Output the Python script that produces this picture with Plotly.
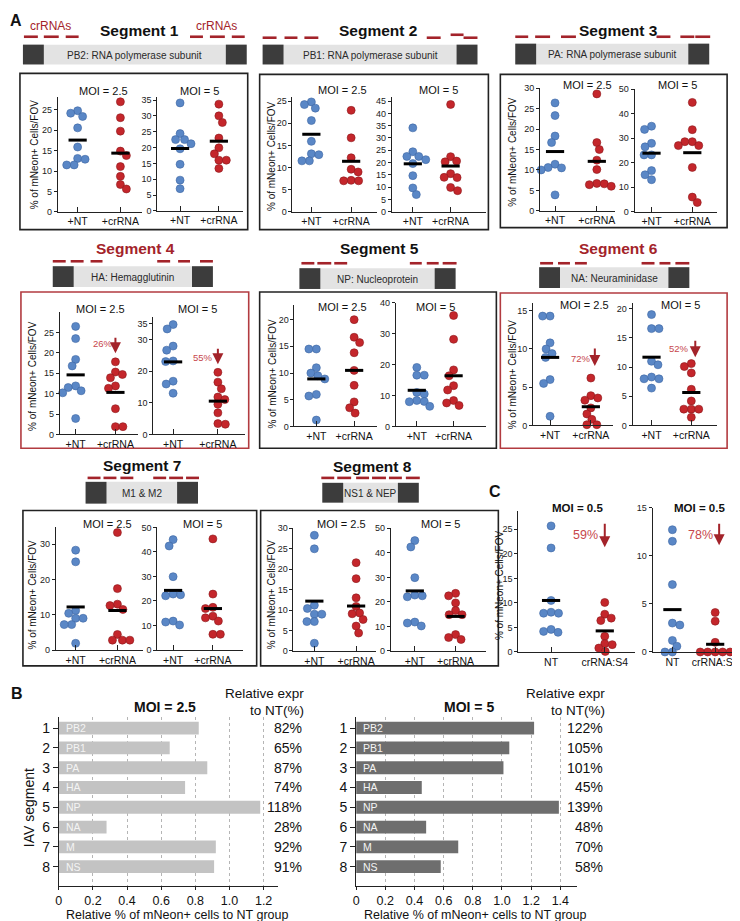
import plotly.graph_objects as go

# ---------------- data ----------------
CATS_A = ['+NT', '+crRNA']
CATS_C4 = ['NT', 'crRNA:S4']
CATS_C6 = ['NT', 'crRNA:S6']

S1_25_NT = [24.8, 24.2, 23.4, 20.6, 15.9, 13.1, 12.9, 11.5, 11.5]
S1_25_CR = [27.0, 23.1, 19.8, 14.9, 13.8, 11.1, 8.7, 6.7, 5.6]
S1_25_MEAN = [17.6, 14.4]
S1_5_NT = [34.1, 24.4, 22.5, 22.5, 21.2, 19.6, 14.7, 9.7, 7.0]
S1_5_CR = [33.7, 30.0, 27.9, 23.0, 19.9, 18.0, 16.0, 16.0, 13.4]
S1_5_MEAN = [19.7, 22.0]

S2_25_NT = [24.8, 24.2, 23.4, 20.6, 15.9, 13.1, 12.9, 11.5, 11.5]
S2_25_CR = [22.9, 16.7, 12.2, 9.6, 9.0, 7.1, 7.0, 7.0]
S2_25_MEAN = [17.5, 11.4]
S2_5_NT = [34.1, 24.4, 22.5, 22.5, 21.2, 19.6, 14.7, 9.7, 7.0]
S2_5_CR = [43.6, 22.4, 20.6, 20.3, 15.5, 14.0, 13.9, 9.9, 8.6]
S2_5_MEAN = [19.5, 18.6]

S3_25_NT = [26.4, 23.3, 18.3, 16.7, 11.4, 10.6, 10.5, 10.0, 3.9]
S3_25_CR = [28.6, 16.7, 15.0, 12.4, 10.1, 6.7, 6.6, 6.4, 6.0]
S3_25_MEAN = [14.5, 12.1]
S3_5_NT = [34.9, 33.6, 27.9, 26.5, 23.2, 23.2, 16.8, 15.1, 13.1]
S3_5_CR = [44.6, 33.5, 28.6, 28.6, 27.0, 27.0, 18.1, 6.0, 3.8]
S3_5_MEAN = [23.9, 24.1]

S4_25_NT = [26.5, 23.5, 18.4, 16.8, 11.9, 11.5, 10.7, 10.2, 3.9]
S4_25_CR = [17.8, 15.3, 14.7, 13.9, 11.9, 11.3, 6.3, 1.9, 1.9]
S4_25_MEAN = [14.6, 10.3]
S4_5_NT = [34.7, 33.3, 27.9, 26.6, 23.2, 23.0, 16.8, 15.9, 13.0]
S4_5_CR = [19.6, 16.5, 14.4, 11.8, 11.0, 9.5, 6.8, 3.4, 3.2]
S4_5_MEAN = [22.9, 10.5]

S5_25_NT = [14.5, 14.5, 11.0, 10.0, 9.5, 8.9, 6.0, 5.7, 1.2]
S5_25_CR = [20.0, 16.7, 15.7, 13.8, 10.5, 7.7, 4.6, 3.5, 2.5]
S5_25_MEAN = [8.9, 10.5]
S5_5_NT = [19.1, 16.6, 16.6, 11.0, 10.5, 8.4, 8.1, 8.0, 6.5]
S5_5_CR = [35.9, 28.2, 18.3, 16.4, 13.2, 11.8, 8.4, 7.6, 6.8]
S5_5_MEAN = [11.7, 16.4]

S6_25_NT = [14.3, 14.3, 10.8, 10.0, 9.4, 8.9, 6.0, 5.5, 1.2]
S6_25_CR = [6.2, 3.9, 3.6, 3.3, 2.3, 1.5, 0.8, 0.1, 0.1]
S6_25_MEAN = [8.9, 2.45]
S6_5_NT = [19.0, 16.6, 16.6, 11.0, 10.4, 8.3, 8.0, 8.0, 6.4]
S6_5_CR = [10.6, 10.1, 9.0, 6.2, 4.2, 2.8, 2.8, 2.8, 1.4]
S6_5_MEAN = [11.7, 5.65]

S7_25_NT = [28.3, 25.0, 11.2, 10.4, 9.0, 9.0, 7.2, 7.2, 1.9]
S7_25_CR = [33.3, 17.4, 13.0, 12.6, 11.5, 4.4, 2.8, 2.8, 2.8]
S7_25_MEAN = [12.2, 11.2]
S7_5_NT = [45.0, 42.4, 29.9, 22.8, 22.5, 22.1, 11.8, 11.4, 10.2]
S7_5_CR = [45.3, 22.8, 17.4, 16.9, 13.8, 13.1, 11.8, 6.4, 6.4]
S7_5_MEAN = [24.3, 16.9]

S8_25_NT = [28.3, 25.0, 11.2, 10.4, 9.0, 9.0, 7.2, 7.2, 1.9]
S8_25_CR = [21.6, 17.7, 13.0, 10.9, 9.3, 9.1, 7.7, 6.1, 4.4]
S8_25_MEAN = [12.2, 11.0]
S8_5_NT = [45.0, 42.4, 29.9, 22.8, 22.5, 22.1, 11.8, 11.4, 10.2]
S8_5_CR = [23.5, 22.5, 19.6, 16.5, 14.8, 14.8, 6.7, 5.5, 4.7]
S8_5_MEAN = [24.5, 14.1]

C_S4_NT = [25.7, 21.2, 10.5, 8.1, 7.9, 7.9, 4.6, 4.2, 4.0]
C_S4_CR = [10.1, 7.7, 6.9, 6.4, 3.2, 1.7, 1.5, 0.8, 0.1]
C_S4_MEAN = [10.5, 4.3]
C_S6_NT = [12.7, 11.5, 7.0, 3.0, 2.8, 1.2, 0.6, 0.0, 0.0]
C_S6_CR = [4.1, 3.2, 1.0, 0.0, 0.0, 0.0, 0.0, 0.0, 0.0]
C_S6_MEAN = [4.4, 0.8]

SEG_IDS = [1, 2, 3, 4, 5, 6, 7, 8]
SEG_NAMES = ['PB2', 'PB1', 'PA', 'HA', 'NP', 'NA', 'M', 'NS']
PCT_25 = [82, 65, 87, 74, 118, 28, 92, 91]
PCT_5 = [122, 105, 101, 45, 139, 48, 70, 58]
DROP_LABELS = ['26%', '55%', '72%', '52%', '59%', '78%']

SEG_TITLES = ['Segment 1', 'Segment 2', 'Segment 3', 'Segment 4',
              'Segment 5', 'Segment 6', 'Segment 7', 'Segment 8']
GENE_TEXT = ['PB2: RNA polymerase subunit', 'PB1: RNA polymerase subunit',
             'PA: RNA polymerase subunit', 'HA: Hemagglutinin',
             'NP: Nucleoprotein', 'NA: Neuraminidase', 'M1 & M2', 'NS1 & NEP']

# ---------------- styling / layout helpers ----------------
W, H = 740, 921
FONT = 'Liberation Sans, Arial, Helvetica, sans-serif'
BLUE, BLUE_E = '#5a87c6', '#3e66a3'
RED, RED_E = '#c4262b', '#8c1a1d'
DARKRED = '#a3232a'
LIGHTRED = '#c7474c'
BOXRED = '#b23b40'


def fx(x):
    return x / W


def fy(y):
    return 1 - y / H


fig = go.Figure()
axes = {}
annos = []
shapes = []


def text(x, y, s, size=11, color='#111', bold=False, xanchor='center', angle=0):
    annos.append(dict(x=fx(x), y=fy(y), xref='paper', yref='paper', text=('<b>%s</b>' % s) if bold else s,
                      showarrow=False, xanchor=xanchor, yanchor='middle', textangle=angle,
                      font=dict(size=size, color=color, family=FONT)))


def swarm_offsets(vals, s, diam=8.0):
    placed, out = [], []
    for i, v in enumerate(vals):
        y = v * s
        chosen = 0.0
        for step in range(0, 80):
            sign = 1 if i % 2 == 0 else -1
            cands = [0.0] if step == 0 else [sign * step * 0.5, -sign * step * 0.5]
            ok = None
            for c in cands:
                if all((c - a) ** 2 + (y - b) ** 2 >= (0.92 * diam) ** 2 for a, b in placed):
                    ok = c
                    break
            if ok is not None:
                chosen = ok
                break
        placed.append((chosen, y))
        out.append(chosen)
    return out


def add_strip(i, nt, cr, means, cats, g, ticks):
    sfx = '' if i == 1 else str(i)
    x0, x1, c0, c1, yz, rv, rp, top = g
    unit = c1 - c0
    s = (yz - rp) / rv
    ytop = (yz - top) / s
    for k, (vals, col, edge) in enumerate([(nt, BLUE, BLUE_E), (cr, RED, RED_E)]):
        offs = swarm_offsets(vals, s)
        fig.add_trace(go.Scatter(x=[k + o / unit for o in offs], y=vals, mode='markers',
                                 marker=dict(size=8, color=col, line=dict(color=edge, width=0.6)),
                                 xaxis='x' + sfx, yaxis='y' + sfx, cliponaxis=False,
                                 showlegend=False, hoverinfo='skip'))
    fig.add_trace(go.Scatter(x=[0, 1], y=means, mode='markers',
                             marker=dict(symbol='line-ew', size=13, line=dict(color='black', width=3)),
                             xaxis='x' + sfx, yaxis='y' + sfx, cliponaxis=False,
                             showlegend=False, hoverinfo='skip'))
    axes['xaxis' + sfx] = dict(domain=[fx(x0), fx(x1)], range=[(x0 - c0) / unit, (x1 - c0) / unit],
                               anchor='y' + sfx, tickvals=[0, 1], ticktext=cats, ticks='inside',
                               ticklen=5, tickcolor='#222', showline=True, linecolor='#222', linewidth=1,
                               showgrid=False, zeroline=False,
                               tickfont=dict(size=10.5, color='#111', family=FONT))
    axes['yaxis' + sfx] = dict(domain=[fy(yz), fy(top)], range=[0, ytop], anchor='x' + sfx,
                               tickvals=ticks, ticks='outside', ticklen=3, tickcolor='#222',
                               showline=True, linecolor='#222', linewidth=1, showgrid=False,
                               zeroline=False, tickfont=dict(size=9, color='#222', family=FONT))


# geometry: x0, x1, cat0, cat1, y_zero, ref_value, ref_px, top_px
strips = [
    (S1_25_NT, S1_25_CR, S1_25_MEAN, CATS_A, (47, 132, 67, 110, 201, 25, 98, 85), list(range(0, 26, 5))),
    (S1_5_NT, S1_5_CR, S1_5_MEAN, CATS_A, (147, 233, 170, 209, 200, 35, 88, 85), list(range(0, 36, 5))),
    (S2_25_NT, S2_25_CR, S2_25_MEAN, CATS_A, (283, 368, 302, 342, 201, 25, 89, 85), list(range(0, 26, 5))),
    (S2_5_NT, S2_5_CR, S2_5_MEAN, CATS_A, (383, 478, 404, 442, 201, 45, 89, 85), list(range(0, 46, 5))),
    (S3_25_NT, S3_25_CR, S3_25_MEAN, CATS_A, (532, 607, 547, 589, 200, 30, 76, 76), list(range(0, 31, 5))),
    (S3_5_NT, S3_5_CR, S3_5_MEAN, CATS_A, (627, 710, 644, 685, 201, 50, 77, 77), list(range(0, 51, 10))),
    (S4_25_NT, S4_25_CR, S4_25_MEAN, CATS_A, (49, 128, 65, 105, 426, 25, 323, 302), list(range(0, 26, 5))),
    (S4_5_NT, S4_5_CR, S4_5_MEAN, CATS_A, (143, 235, 163, 208, 426, 30, 330, 307), [0, 10, 20, 30, 35]),
    (S5_25_NT, S5_25_CR, S5_25_MEAN, CATS_A, (285, 368, 307, 345, 418, 20, 310, 295), list(range(0, 21, 5))),
    (S5_5_NT, S5_5_CR, S5_5_MEAN, CATS_A, (387, 478, 408, 445, 418, 40, 293, 293), list(range(0, 41, 10))),
    (S6_25_NT, S6_25_CR, S6_25_MEAN, CATS_A, (525, 605, 542, 583, 417, 15, 301, 293), list(range(0, 16, 5))),
    (S6_5_NT, S6_5_CR, S6_5_MEAN, CATS_A, (625, 710, 644, 684, 417, 20, 299, 293), list(range(0, 21, 5))),
    (S7_25_NT, S7_25_CR, S7_25_MEAN, CATS_A, (45, 133, 65, 107, 644, 30, 537, 520), list(range(0, 31, 10))),
    (S7_5_NT, S7_5_CR, S7_5_MEAN, CATS_A, (147, 233, 163, 203, 644, 50, 520, 520), list(range(0, 51, 10))),
    (S8_25_NT, S8_25_CR, S8_25_MEAN, CATS_A, (284, 367, 305, 347, 645, 30, 521, 521), list(range(0, 31, 5))),
    (S8_5_NT, S8_5_CR, S8_5_MEAN, CATS_A, (382, 478, 406, 447, 645, 50, 521, 521), list(range(0, 51, 10))),
    (C_S4_NT, C_S4_CR, C_S4_MEAN, CATS_C4, (510, 627, 543, 597, 646, 25, 522, 503), list(range(0, 26, 5))),
    (C_S6_NT, C_S6_CR, C_S6_MEAN, CATS_C6, (645, 730, 665, 708, 646, 15, 500, 500), list(range(0, 16, 5))),
]
for n, (a, b, m, cats, g, t) in enumerate(strips, start=1):
    add_strip(n, a, b, m, cats, g, t)

# ---------------- panel A decorations ----------------
boxes = [(9, 61, 238, 219, '#222'), (250, 62, 480, 219, '#222'), (492, 62, 720, 217, '#222'),
         (10, 282, 239, 440, BOXRED), (250, 282, 488, 440, '#222'), (492, 283, 720, 440, BOXRED),
         (12, 503, 247, 660, '#222'), (251, 503, 490, 660, '#222')]
for x0, y0, x1, y1, c in boxes:
    shapes.append(dict(type='rect', xref='paper', yref='paper', x0=fx(x0), x1=fx(x1), y0=fy(y1), y1=fy(y0),
                       line=dict(color=c, width=1.6), fillcolor='rgba(0,0,0,0)', layer='below'))

gene_bars = [(12, 32, 237, 52), (253, 32, 469, 52), (507, 31, 702, 52), (42, 256, 203, 277),
             (290, 258, 447, 279), (531, 257, 682, 278), (75, 474, 188, 496), (313, 475, 410, 495)]
for (x0, y0, x1, y1), label in zip(gene_bars, GENE_TEXT):
    e = 21
    shapes.append(dict(type='rect', xref='paper', yref='paper', x0=fx(x0), x1=fx(x1), y0=fy(y1), y1=fy(y0),
                       line=dict(width=0), fillcolor='#e3e3e3', layer='below'))
    for a, b in [(x0, x0 + e), (x1 - e, x1)]:
        shapes.append(dict(type='rect', xref='paper', yref='paper', x0=fx(a), x1=fx(b), y0=fy(y1), y1=fy(y0),
                           line=dict(width=0), fillcolor='#3c3c3c', layer='below'))
    text((x0 + x1) / 2, (y0 + y1) / 2 + 0.5, label, size=10, color='#2a2a2a')

dashes = [
    (24, [(13, 27), (33, 48), (55, 68), (180, 193), (200, 215), (222, 235)]),
    (25, [(253, 267), (275, 288), (295, 309), (418, 432), (455, 469)]),
    (22, [(442, 455)]),
    (24, [(507, 520), (527, 542), (553, 568), (649, 663), (673, 687), (688, 703)]),
    (251, [(42, 55), (60, 73), (80, 92), (147, 160), (168, 180), (190, 203)]),
    (253, [(292, 305), (308, 322), (325, 338), (401, 413), (418, 430), (434, 448)]),
    (253, [(532, 545), (550, 562), (567, 579), (634, 647), (652, 663), (668, 682)]),
    (470, [(77, 90), (93, 106), (110, 123), (143, 156), (159, 173), (176, 189)]),
    (470, [(312, 325), (328, 342), (347, 360), (363, 377), (380, 393), (397, 411)]),
]
for yy, segs in dashes:
    for a, b in segs:
        shapes.append(dict(type='line', xref='paper', yref='paper', x0=fx(a), x1=fx(b), y0=fy(yy), y1=fy(yy),
                           line=dict(color=DARKRED, width=2.6)))

title_pos = [(129, 18, '#111'), (369, 18, '#111'), (611, 18, '#111'), (125, 238, DARKRED),
             (370, 238, '#111'), (611, 238, DARKRED), (132, 457, '#111'), (363, 458, '#111')]
for (x, y, c), t in zip(title_pos, SEG_TITLES):
    text(x, y, t, size=15.5, color=c, bold=True)
text(40, 13, 'crRNAs', size=12, color=DARKRED)
text(207, 13, 'crRNAs', size=12, color=DARKRED)

moi_pos = [(93, 79, '2.5'), (190, 79, '5'), (333, 78, '2.5'), (430, 78, '5'), (580, 73, '2.5'), (670, 73, '5'),
           (90, 299, '2.5'), (188, 299, '5'), (333, 297, '2.5'), (427, 297, '5'), (577, 295, '2.5'),
           (673, 295, '5'), (97, 517, '2.5'), (193, 517, '5'), (332, 517, '2.5'), (432, 517, '5')]
for x, y, v in moi_pos:
    text(x, y, 'MOI = ' + v, size=11, color='#111')
text(570, 500, 'MOI = 0.5', size=11.5, color='#111', bold=True)
text(692, 500, 'MOI = 0.5', size=11.5, color='#111', bold=True)

ytitle_pos = [(24, 143), (262, 145), (504, 140), (21, 367), (262, 365), (504, 365), (22, 588), (262, 588),
              (491, 578)]
for x, y in ytitle_pos:
    text(x, y, '% of mNeon+ Cells/FOV', size=10, color='#111', angle=-90)

# knock-down arrows
drops = [((92, 334), (105, 344, 17), 9.5), ((193, 348), (208, 355, 17), 9.5),
         ((573, 349), (587, 357, 19), 9.5), ((672, 339), (688, 348, 18), 9.5),
         ((578, 528), (597, 540, 25), 12.5), ((693, 528), (712, 538, 23), 12.5)]
for (tpos, (ax_, ay_, ln), fs), lab in zip(drops, DROP_LABELS):
    text(tpos[0], tpos[1], lab, size=fs, color=LIGHTRED)
    annos.append(dict(x=fx(ax_), y=fy(ay_), xref='paper', yref='paper', ax=0, ay=-ln, text='',
                      showarrow=True, arrowhead=2, arrowsize=1.1, arrowwidth=2, arrowcolor=DARKRED))

text(5, 8, 'A', size=16, color='#111', bold=True)
text(6, 688, 'B', size=16, color='#111', bold=True)
text(487, 484, 'C', size=16, color='#111', bold=True)

# ---------------- panel B (bar charts) ----------------
bar_specs = [
    (19, PCT_25, '#c3c3c3', 48, 268, 1.2 / (254 - 48), [0, 0.2, 0.4, 0.6, 0.8, 1.0, 1.2],
     ['0', '0.2', '0.4', '0.6', '0.8', '1.0', '1.2'], 295, 155, 'MOI = 2.5', 167),
    (20, PCT_5, '#6e6e6e', 347, 569, 1.2 / (553 - 377), [0, 0.2, 0.4, 0.6, 0.8, 1.0, 1.2, 1.4],
     ['0', '0.2', '0.4', '0.6', '0.8', '1.0', '1.2', '1.4'], 597, 460, 'MOI = 5', 467),
]
for idx, pct, col, x0, x1, upp, tv, tt, pctx, titx, tit, xtx in bar_specs:
    sfx = str(idx)
    fig.add_trace(go.Bar(y=SEG_IDS, x=[p / 100 for p in pct], orientation='h', width=0.65,
                         marker=dict(color=col, line=dict(width=0)), xaxis='x' + sfx, yaxis='y' + sfx,
                         showlegend=False, hoverinfo='skip'))
    axes['xaxis' + sfx] = dict(domain=[fx(x0), fx(x1)], range=[0, (x1 - x0) * upp], anchor='y' + sfx,
                               tickvals=tv, ticktext=tt, ticks='outside', ticklen=3, tickcolor='#222',
                               showline=True, linecolor='#222', linewidth=1, zeroline=False,
                               showgrid=True, gridcolor='#b5b5b5', griddash='dot', gridwidth=1,
                               tickfont=dict(size=12.5, color='#111', family=FONT))
    axes['yaxis' + sfx] = dict(domain=[fy(883), fy(712)], range=[9.0, 0.45], anchor='x' + sfx,
                               tickvals=SEG_IDS, ticks='outside', ticklen=5, tickcolor='#222',
                               showline=True, linecolor='#222', linewidth=1, showgrid=False, zeroline=False,
                               tickfont=dict(size=14, color='#111', family=FONT))
    for sid, name, p in zip(SEG_IDS, SEG_NAMES, pct):
        annos.append(dict(x=fx(x0 + 5), y=sid, xref='paper', yref='y' + sfx, text=name, showarrow=False,
                          xanchor='left', yanchor='middle',
                          font=dict(size=10.5, color='#f4f4f4', family=FONT)))
        annos.append(dict(x=fx(pctx), y=sid, xref='paper', yref='y' + sfx, text='%d%%' % p, showarrow=False,
                          xanchor='right', yanchor='middle',
                          font=dict(size=14, color='#111', family=FONT)))
    text(titx, 702, tit, size=14, color='#111', bold=True)
    annos.append(dict(x=fx(pctx + 2), y=fy(688), xref='paper', yref='paper', text='Relative expr',
                      showarrow=False, xanchor='right', yanchor='middle',
                      font=dict(size=13.5, color='#111', family=FONT)))
    annos.append(dict(x=fx(pctx + 2), y=fy(705), xref='paper', yref='paper', text='to NT(%)',
                      showarrow=False, xanchor='right', yanchor='middle',
                      font=dict(size=13.5, color='#111', family=FONT)))
    text(xtx, 912, 'Relative % of mNeon+ cells to NT group', size=12.5, color='#111')

text(18, 803, 'IAV segment', size=14, color='#111', angle=-90)

fig.update_layout(width=W, height=H, margin=dict(l=0, r=0, t=0, b=0), paper_bgcolor='white',
                  plot_bgcolor='rgba(0,0,0,0)', showlegend=False, annotations=annos, shapes=shapes,
                  font=dict(family=FONT, color='#111'), bargap=0.35, **axes)

fig.write_html('out.html')
